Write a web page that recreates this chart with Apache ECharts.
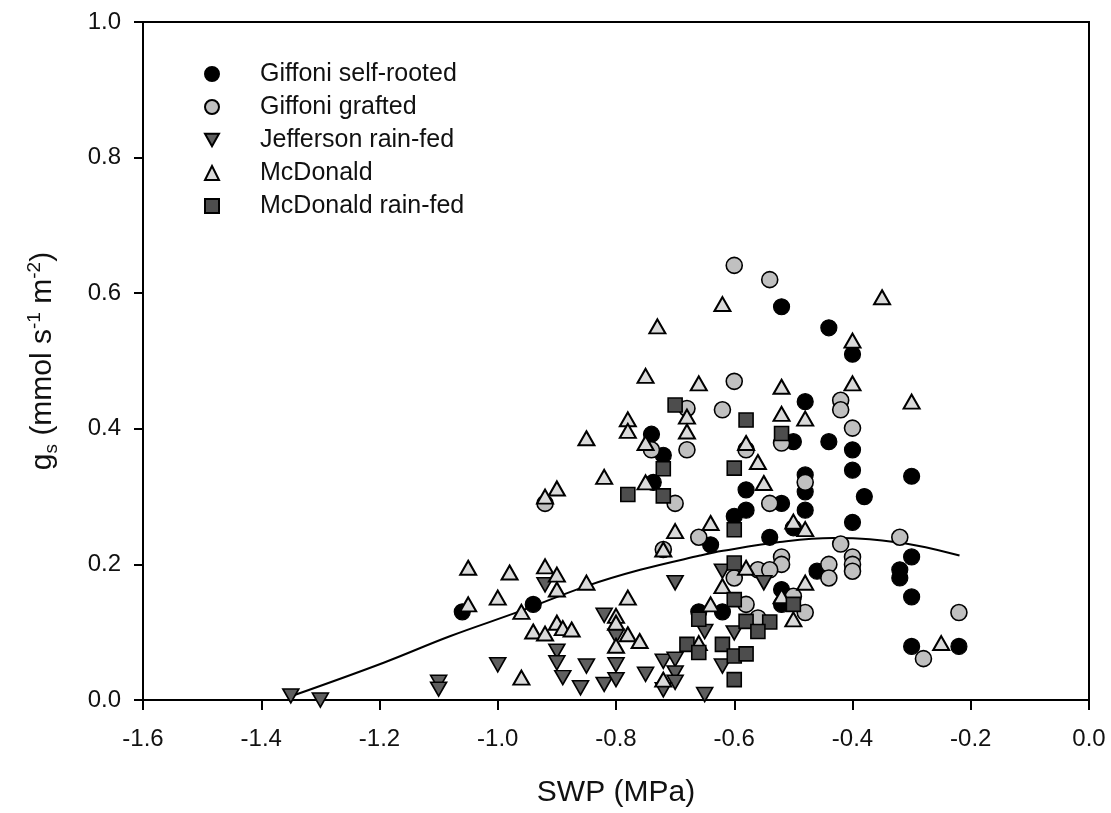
<!DOCTYPE html>
<html>
<head>
<meta charset="utf-8">
<script src="https://cdn.jsdelivr.net/npm/echarts@6/dist/echarts.min.js"></script>
<style>
html,body{margin:0;padding:0;background:#fff;}
#chart{width:1111px;height:813px;}
</style>
</head>
<body>
<div id="chart"></div>
<script>
// ---- data (x = SWP MPa, y = gs) ----
var giffoniSelf = [
[-1.06,0.130],[-0.94,0.141],[-0.74,0.392],[-0.72,0.361],[-0.737,0.321],[-0.52,0.580],[-0.44,0.549],
[-0.40,0.510],[-0.48,0.440],[-0.50,0.381],[-0.44,0.381],[-0.40,0.369],[-0.40,0.339],[-0.30,0.330],
[-0.48,0.332],[-0.48,0.307],[-0.58,0.310],[-0.38,0.300],[-0.52,0.290],[-0.58,0.280],[-0.60,0.271],
[-0.48,0.280],[-0.50,0.254],[-0.40,0.262],[-0.54,0.240],[-0.64,0.229],[-0.30,0.211],[-0.46,0.190],
[-0.32,0.192],[-0.32,0.180],[-0.52,0.163],[-0.30,0.152],[-0.52,0.141],[-0.66,0.130],[-0.62,0.130],
[-0.30,0.079],[-0.22,0.079]
];
var giffoniGrafted = [
[-0.92,0.290],[-0.74,0.369],[-0.70,0.290],[-0.68,0.430],[-0.68,0.369],[-0.62,0.428],[-0.60,0.641],
[-0.54,0.620],[-0.60,0.470],[-0.42,0.442],[-0.42,0.428],[-0.40,0.401],[-0.52,0.379],[-0.58,0.369],
[-0.48,0.321],[-0.54,0.290],[-0.66,0.240],[-0.72,0.222],[-0.42,0.230],[-0.32,0.240],[-0.40,0.211],
[-0.40,0.200],[-0.40,0.190],[-0.52,0.211],[-0.52,0.200],[-0.44,0.200],[-0.44,0.180],[-0.56,0.192],
[-0.54,0.192],[-0.60,0.180],[-0.50,0.153],[-0.58,0.141],[-0.48,0.129],[-0.22,0.129],[-0.56,0.121],
[-0.28,0.061]
];
var jeffersonRainFed = [
[-1.35,0.006],[-1.30,0.000],[-1.10,0.026],[-1.10,0.016],[-1.00,0.052],[-0.92,0.170],[-0.90,0.072],
[-0.90,0.055],[-0.89,0.033],[-0.86,0.018],[-0.85,0.050],[-0.82,0.125],[-0.82,0.023],[-0.80,0.094],
[-0.80,0.052],[-0.80,0.030],[-0.75,0.038],[-0.72,0.057],[-0.70,0.060],[-0.70,0.040],[-0.70,0.026],
[-0.72,0.015],[-0.70,0.173],[-0.62,0.190],[-0.65,0.101],[-0.60,0.099],[-0.62,0.050],[-0.65,0.008],
[-0.55,0.173]
];
var mcdonald = [
[-0.62,0.584],[-0.73,0.551],[-0.35,0.594],[-0.40,0.530],[-0.75,0.478],[-0.66,0.467],[-0.52,0.462],
[-0.40,0.467],[-0.30,0.440],[-0.68,0.418],[-0.78,0.414],[-0.78,0.397],[-0.68,0.396],[-0.85,0.386],
[-0.75,0.379],[-0.58,0.379],[-0.52,0.422],[-0.48,0.415],[-0.56,0.351],[-0.55,0.320],[-0.82,0.329],
[-0.75,0.321],[-0.90,0.312],[-0.92,0.300],[-0.50,0.263],[-0.48,0.252],[-0.64,0.261],[-0.70,0.249],
[-0.72,0.222],[-1.05,0.195],[-0.98,0.188],[-0.92,0.197],[-0.90,0.185],[-0.90,0.163],[-0.85,0.173],
[-0.78,0.151],[-0.58,0.195],[-0.62,0.168],[-0.48,0.173],[-0.52,0.153],[-1.05,0.141],[-1.00,0.151],
[-0.96,0.130],[-0.90,0.114],[-0.89,0.106],[-0.875,0.104],[-0.94,0.101],[-0.92,0.098],[-0.80,0.124],
[-0.80,0.114],[-0.78,0.097],[-0.76,0.087],[-0.80,0.080],[-0.64,0.141],[-0.66,0.084],[-0.50,0.119],
[-0.96,0.033],[-0.72,0.030],[-0.25,0.084]
];
var mcdonaldRainFed = [
[-0.78,0.303],[-0.72,0.341],[-0.72,0.301],[-0.70,0.435],[-0.58,0.413],[-0.60,0.342],[-0.52,0.393],
[-0.60,0.251],[-0.60,0.202],[-0.60,0.148],[-0.66,0.119],[-0.50,0.141],[-0.58,0.116],[-0.54,0.115],
[-0.56,0.101],[-0.68,0.082],[-0.66,0.070],[-0.62,0.082],[-0.60,0.065],[-0.58,0.068],[-0.60,0.030]
];
// fitted curve
var fitX = [-1.345,-1.193,-1.081,-0.962,-0.850,-0.759,-0.658,-0.619,-0.523,-0.433,-0.371,-0.292,-0.219];
var fitY = [0.007,0.055,0.094,0.131,0.168,0.192,0.213,0.220,0.233,0.239,0.237,0.228,0.213];
var seriesNames = ['Giffoni self-rooted','Giffoni grafted','Jefferson rain-fed','McDonald','McDonald rain-fed'];
var xTicks = {min:-1.6, max:0.0, step:0.2};
var yTicks = {min:0.0, max:1.0, step:0.2};

var FONT = '"Liberation Sans", Arial, sans-serif';
var INV_TRI = 'path://M0,0 L10,0 L5,9 Z';

var chart = echarts.init(document.getElementById('chart'), null, {renderer:'canvas'});
var fitData = fitX.map(function(x,i){return [x, fitY[i]];});

function sc(name, data, symbol, size, fill, bw){
  return {
    name: name, type:'scatter', data:data, symbol:symbol, symbolSize:size, clip:false,
    itemStyle:{color:fill, borderColor:'#000', borderWidth:bw, opacity:1},
    emphasis:{disabled:true}, z:3
  };
}

chart.setOption({
  animation:false,
  backgroundColor:'#fff',
  grid:{left:143, right:22, top:22, bottom:112, show:true, borderColor:'#000', borderWidth:2, backgroundColor:'transparent'},
  legend:{
    orient:'vertical', left:199, top:56, itemWidth:14, itemHeight:14, itemGap:7,
    data:seriesNames,
    textStyle:{fontFamily:FONT, fontSize:25, color:'#111', lineHeight:26, padding:[0,0,0,36]},
    selectedMode:false
  },
  xAxis:{
    type:'value', min:xTicks.min, max:xTicks.max, interval:xTicks.step,
    name:'SWP (MPa)', nameLocation:'middle', nameGap:78,
    nameTextStyle:{fontFamily:FONT, fontSize:30, color:'#111'},
    axisLine:{show:true, onZero:false, lineStyle:{color:'#000', width:2}},
    axisTick:{show:true, inside:false, length:10, lineStyle:{color:'#000', width:2}},
    axisLabel:{fontFamily:FONT, fontSize:24, color:'#111', margin:27,
      formatter:function(v){return v.toFixed(1);}},
    splitLine:{show:false}
  },
  yAxis:{
    type:'value', min:yTicks.min, max:yTicks.max, interval:yTicks.step,
    name:'{n|g}{sub|s}{n| (mmol s}{sup|-1}{n| m}{sup|-2}{n|)}',
    nameLocation:'middle', nameGap:82, nameRotate:90,
    nameTextStyle:{fontFamily:FONT, fontSize:30, color:'#111',
      rich:{
        n:{fontFamily:FONT, fontSize:30, color:'#111', lineHeight:36},
        sub:{fontFamily:FONT, fontSize:19, color:'#111', verticalAlign:'bottom', lineHeight:16},
        sup:{fontFamily:FONT, fontSize:19, color:'#111', verticalAlign:'top', lineHeight:20}
      }},
    axisLine:{show:true, onZero:false, lineStyle:{color:'#000', width:2}},
    axisTick:{show:true, inside:false, length:9, lineStyle:{color:'#000', width:2}},
    axisLabel:{fontFamily:FONT, fontSize:24, color:'#111', margin:22,
      formatter:function(v){return v.toFixed(1);}},
    splitLine:{show:false}
  },
  series:[
    {name:'fit', type:'line', data:fitData, smooth:0.4, symbol:'none', showSymbol:false,
     lineStyle:{color:'#000', width:2}, z:2, silent:true, legendHoverLink:false},
    sc(seriesNames[0], giffoniSelf, 'circle', 16, '#000000', 1.2),
    sc(seriesNames[1], giffoniGrafted, 'circle', 16, '#c0c0c0', 1.6),
    sc(seriesNames[2], jeffersonRainFed, INV_TRI, [16,14], '#5e5e5e', 1.6),
    sc(seriesNames[3], mcdonald, 'triangle', [16,14], '#dadada', 2),
    sc(seriesNames[4], mcdonaldRainFed, 'rect', 14, '#4d4d4d', 1.6)
  ]
});
</script>
</body>
</html>
